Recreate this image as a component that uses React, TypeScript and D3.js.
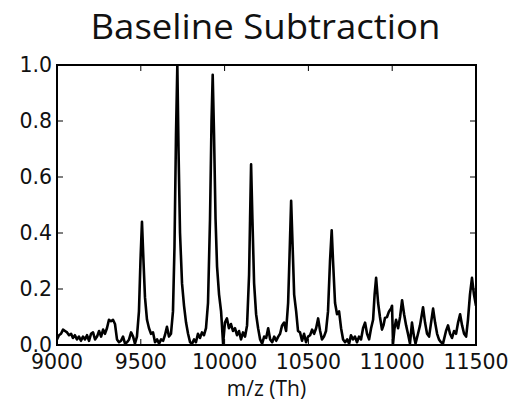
import React from "react";
import * as d3 from "d3";

// m/z (Th) positions
const mz: number[] = [
  9000, 9012, 9024, 9036, 9048, 9060, 9072, 9084, 9095, 9107, 9119, 9131, 9143, 9155, 9167, 9179, 9191,
  9203, 9215, 9227, 9239, 9251, 9263, 9275, 9286, 9298, 9310, 9322, 9334, 9346, 9358, 9370, 9382, 9394,
  9406, 9418, 9430, 9442, 9454, 9465, 9477, 9489, 9498, 9507, 9516, 9525, 9537, 9549, 9561, 9573, 9585,
  9597, 9609, 9621, 9633, 9644, 9656, 9668, 9680, 9692, 9701, 9710, 9718, 9725, 9734, 9746, 9758, 9770,
  9782, 9794, 9806, 9818, 9829, 9841, 9853, 9865, 9877, 9889, 9901, 9913, 9922, 9929, 9937, 9946, 9955,
  9967, 9979, 9991, 10002, 10014, 10026, 10038, 10050, 10062, 10074, 10086, 10098, 10110, 10122, 10134,
  10146, 10152, 10158, 10166, 10176, 10188, 10200, 10212, 10224, 10236, 10248, 10260, 10272, 10284, 10296,
  10308, 10320, 10331, 10343, 10355, 10367, 10379, 10389, 10397, 10406, 10415, 10427, 10438, 10450, 10462,
  10474, 10486, 10498, 10510, 10522, 10534, 10546, 10558, 10570, 10581, 10593, 10605, 10617, 10629, 10639,
  10647, 10659, 10671, 10683, 10695, 10707, 10719, 10731, 10743, 10754, 10766, 10778, 10790, 10802, 10814,
  10826, 10838, 10850, 10862, 10874, 10886, 10895, 10904, 10916, 10927, 10939, 10948, 10957, 10969, 10981,
  10993, 10999, 11005, 11014, 11023, 11035, 11047, 11059, 11071, 11083, 11094, 11106, 11118, 11130, 11139,
  11154, 11166, 11184, 11196, 11208, 11220, 11232, 11244, 11256, 11268, 11279, 11291, 11303, 11321, 11333,
  11345, 11357, 11369, 11381, 11393, 11405, 11417, 11429, 11441, 11452, 11464, 11476, 11488, 11500,
];

// normalised intensity after baseline subtraction
const intensity: number[] = [
  0.02, 0.035, 0.04, 0.055, 0.05, 0.045, 0.035, 0.04, 0.025, 0.035, 0.02, 0.03, 0.015, 0.03, 0.02, 0.035, 0.015,
  0.04, 0.045, 0.02, 0.03, 0.05, 0.03, 0.055, 0.04, 0.06, 0.09, 0.085, 0.09, 0.075, 0.02, 0.01, 0.015, 0.03,
  0.005, 0.01, 0.02, 0.045, 0.03, 0.005, 0.03, 0.12, 0.3, 0.44, 0.3, 0.17, 0.09, 0.06, 0.04, 0.045, 0.01,
  0.02, 0.005, 0.02, 0.015, 0.035, 0.065, 0.03, 0.04, 0.12, 0.35, 0.75, 1.0, 0.7, 0.4, 0.22, 0.14, 0.08,
  0.04, 0.01, 0.005, 0.02, 0.01, 0.04, 0.025, 0.045, 0.035, 0.06, 0.15, 0.45, 0.8, 0.965, 0.75, 0.45, 0.28,
  0.18, 0.12, 0.005, 0.08, 0.095, 0.06, 0.075, 0.05, 0.06, 0.035, 0.05, 0.02, 0.045, 0.03, 0.07,
  0.25, 0.45, 0.645, 0.45, 0.22, 0.11, 0.06, 0.02, 0.005, 0.03, 0.025, 0.06, 0.02, 0.01, 0.03,
  0.015, 0.03, 0.04, 0.07, 0.08, 0.05, 0.15, 0.35, 0.515, 0.35, 0.18, 0.12, 0.05, 0.045, 0.015,
  0.04, 0.01, 0.03, 0.035, 0.055, 0.04, 0.06, 0.095, 0.05, 0.02, 0.03, 0.05, 0.12, 0.3, 0.41,
  0.3, 0.15, 0.11, 0.12, 0.06, 0.02, 0.01, 0.02, 0.005, 0.035, 0.02, 0.03, 0.01, 0.03, 0.02,
  0.06, 0.08, 0.04, 0.02, 0.06, 0.09, 0.18, 0.24, 0.15, 0.1, 0.055, 0.07, 0.097, 0.1, 0.12,
  0.13, 0.14, 0.005, 0.06, 0.09, 0.06, 0.1, 0.16, 0.11, 0.07, 0.04, 0.005, 0.08, 0.03, 0.005,
  0.04, 0.07, 0.135, 0.08, 0.04, 0.03, 0.08, 0.13, 0.08, 0.04, 0.02, 0.01, 0.005, 0.05, 0.07,
  0.04, 0.025, 0.05, 0.04, 0.08, 0.11, 0.07, 0.04, 0.03, 0.09, 0.18, 0.24, 0.18, 0.14,
];

const xTicks: number[] = [9000, 9500, 10000, 10500, 11000, 11500];
const yTicks: number[] = [0.0, 0.2, 0.4, 0.6, 0.8, 1.0];
const title = "Baseline Subtraction";
const xLabel = "m/z (Th)";

const W = 515;
const H = 402;
const M = { left: 57, right: 39, top: 65, bottom: 57 };

export default function App() {
  const x = d3.scaleLinear().domain([9000, 11500]).range([M.left, W - M.right]);
  const y = d3.scaleLinear().domain([0, 1]).range([H - M.bottom, M.top]);
  const pts = mz.map((m, i) => [m, intensity[i]] as [number, number]);
  const line = d3
    .line<[number, number]>()
    .x((d) => x(d[0]))
    .y((d) => y(d[1]))(pts) as string;

  const x0 = M.left;
  const x1 = W - M.right;
  const y0 = H - M.bottom;
  const y1 = M.top;
  const tl = 6;
  const tickFont = "'DejaVu Sans', sans-serif";
  const labelFont = "'Open Sans', sans-serif";

  return (
    <svg
      width={W}
      height={H}
      style={{ position: "absolute", left: 0, top: 0, background: "#fff" }}
    >
      <defs>
        <clipPath id="plotclip">
          <rect x={x0} y={y1} width={x1 - x0} height={y0 - y1} />
        </clipPath>
      </defs>
      <rect x={0} y={0} width={W} height={H} fill="#fff" />
      <text
        x={(x0 + x1) / 2 - 1}
        y={39}
        textAnchor="middle"
        fontFamily={labelFont}
        fontSize={34}
        textLength={350}
        lengthAdjust="spacingAndGlyphs"
        fill="#111"
      >
        {title}
      </text>
      <path
        d={line}
        fill="none"
        stroke="#000"
        strokeWidth={2.6}
        strokeLinejoin="round"
        clipPath="url(#plotclip)"
      />
      {/* ticks */}
      {xTicks.map((t) => (
        <g key={"xt" + t}>
          <line x1={x(t)} x2={x(t)} y1={y0} y2={y0 - tl} stroke="#000" strokeWidth={1} />
          <line x1={x(t)} x2={x(t)} y1={y1} y2={y1 + tl} stroke="#000" strokeWidth={1} />
          <text
            x={x(t)}
            y={y0 + 24}
            textAnchor="middle"
            fontFamily={tickFont}
            fontSize={20.5}
            fill="#111"
          >
            {t}
          </text>
        </g>
      ))}
      {yTicks.map((t) => (
        <g key={"yt" + t}>
          <line x1={x0} x2={x0 + tl} y1={y(t)} y2={y(t)} stroke="#000" strokeWidth={1} />
          <line x1={x1} x2={x1 - tl} y1={y(t)} y2={y(t)} stroke="#000" strokeWidth={1} />
          <text
            x={x0 - 5}
            y={y(t) + 7}
            textAnchor="end"
            fontFamily={tickFont}
            fontSize={20.5}
            fill="#111"
          >
            {t.toFixed(1)}
          </text>
        </g>
      ))}
      <rect
        x={x0}
        y={y1}
        width={x1 - x0}
        height={y0 - y1}
        fill="none"
        stroke="#000"
        strokeWidth={2}
      />
      <text
        x={(x0 + x1) / 2}
        y={396}
        textAnchor="middle"
        fontFamily={labelFont}
        fontSize={21}
        fill="#111"
      >
        {xLabel}
      </text>
    </svg>
  );
}
